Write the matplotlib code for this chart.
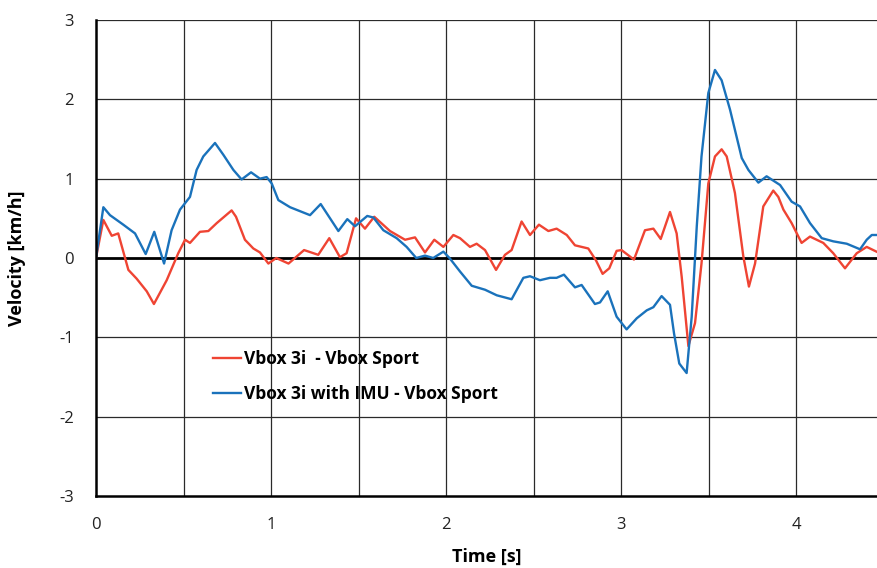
import matplotlib.pyplot as plt

plt.rcParams['font.family'] = ['Open Sans', 'DejaVu Sans']
plt.rcParams['axes.unicode_minus'] = False

# Data
t_red = [0.0, 0.042, 0.09, 0.127, 0.185, 0.232, 0.29, 0.331, 0.404, 0.47, 0.509, 0.537,
         0.594, 0.642, 0.69, 0.775, 0.80, 0.851, 0.899, 0.937, 0.985, 1.03, 1.10,
         1.189, 1.27, 1.333, 1.394, 1.432, 1.486, 1.537, 1.59, 1.68, 1.766, 1.823, 1.88,
         1.933, 1.985, 2.042, 2.08, 2.137, 2.175, 2.223, 2.286, 2.337, 2.375, 2.432, 2.48,
         2.531, 2.585, 2.632, 2.69, 2.737, 2.813, 2.857, 2.895, 2.933, 2.975, 3.003,
         3.074, 3.137, 3.185, 3.227, 3.28, 3.318, 3.347, 3.385, 3.423, 3.46, 3.499, 3.537,
         3.575, 3.604, 3.651, 3.699, 3.731, 3.766, 3.813, 3.87, 3.899, 3.928, 3.975, 4.032,
         4.08, 4.156, 4.213, 4.28, 4.347, 4.404, 4.46]
v_red = [0.0, 0.48, 0.28, 0.31, -0.15, -0.26, -0.42, -0.58, -0.28, 0.06, 0.23, 0.19,
         0.33, 0.34, 0.44, 0.60, 0.52, 0.23, 0.12, 0.07, -0.07, 0.0, -0.07,
         0.10, 0.04, 0.25, 0.01, 0.06, 0.50, 0.37, 0.52, 0.34, 0.23, 0.26, 0.07,
         0.23, 0.14, 0.29, 0.25, 0.14, 0.18, 0.10, -0.15, 0.04, 0.10, 0.46, 0.29,
         0.42, 0.34, 0.37, 0.29, 0.16, 0.12, -0.03, -0.20, -0.13, 0.09, 0.10,
         -0.02, 0.35, 0.37, 0.24, 0.58, 0.31, -0.24, -1.11, -0.82, -0.07, 0.94, 1.28,
         1.37, 1.28, 0.82, 0.02, -0.36, -0.07, 0.65, 0.85, 0.77, 0.61, 0.44, 0.19,
         0.27, 0.19, 0.06, -0.13, 0.06, 0.14, 0.08]

t_blue = [0.0, 0.042, 0.08, 0.156, 0.223, 0.284, 0.333, 0.389, 0.432, 0.48, 0.537,
          0.575, 0.613, 0.68, 0.728, 0.785, 0.832, 0.886, 0.937, 0.975, 1.004, 1.042,
          1.109, 1.223, 1.284, 1.385, 1.436, 1.48, 1.55, 1.585, 1.642, 1.718, 1.775,
          1.83, 1.88, 1.927, 1.985, 2.02, 2.08, 2.147, 2.223, 2.29, 2.375, 2.442, 2.48,
          2.537, 2.594, 2.632, 2.674, 2.737, 2.775, 2.851, 2.88, 2.924, 2.975, 3.032,
          3.09, 3.147, 3.185, 3.232, 3.28, 3.303, 3.333, 3.375, 3.404, 3.433, 3.46,
          3.499, 3.537, 3.575, 3.623, 3.69, 3.728, 3.785, 3.832, 3.909, 3.975, 4.023,
          4.08, 4.147, 4.213, 4.29, 4.366, 4.404, 4.433, 4.46]
v_blue = [0.0, 0.64, 0.54, 0.42, 0.31, 0.05, 0.33, -0.07, 0.35, 0.61, 0.77,
          1.11, 1.28, 1.45, 1.30, 1.11, 0.99, 1.08, 1.00, 1.02, 0.94, 0.73,
          0.64, 0.54, 0.68, 0.34, 0.49, 0.40, 0.53, 0.51, 0.35, 0.25, 0.14,
          0.0, 0.03, 0.0, 0.08, 0.0, -0.17, -0.35, -0.40, -0.47, -0.52, -0.25, -0.23,
          -0.28, -0.25, -0.25, -0.21, -0.37, -0.34, -0.58, -0.56, -0.42, -0.74, -0.90,
          -0.76, -0.66, -0.62, -0.48, -0.59, -0.95, -1.33, -1.45, -0.74, 0.40, 1.28,
          2.08, 2.37, 2.24, 1.87, 1.26, 1.11, 0.95, 1.03, 0.92, 0.71, 0.65,
          0.44, 0.25, 0.21, 0.18, 0.11, 0.23, 0.29, 0.29]

labels = ["Vbox 3i  - Vbox Sport", "Vbox 3i with IMU - Vbox Sport"]
x_ticks = [0, 1, 2, 3, 4]
y_ticks = [-3, -2, -1, 0, 1, 2, 3]

# Plot
fig = plt.figure(figsize=(8.77, 5.68), dpi=100)
ax = fig.add_axes([96 / 877, 1 - 496 / 568, 1 - 96 / 877, (496 - 20) / 568])

ax.plot(t_red, v_red, color='#EF4433', lw=1.7, label=labels[0], solid_joinstyle='round')
ax.plot(t_blue, v_blue, color='#1A72BB', lw=1.7, label=labels[1], solid_joinstyle='round')

ax.set_xlim(0, 781 / 175)
ax.set_ylim(-3, 3)
ax.set_xticks(x_ticks)
ax.set_yticks(y_ticks)

# grid every 0.5 s and every 1 km/h
for gx in [0.5, 1, 1.5, 2, 2.5, 3, 3.5, 4]:
    ax.axvline(gx, color='#2a2a2a', lw=0.9, zorder=0)
for gy in [-2, -1, 1, 2, 3]:
    ax.axhline(gy, color='#2a2a2a', lw=0.9, zorder=0)
ax.axhline(0, color='black', lw=2.0, zorder=1)

ax.spines['right'].set_visible(False)
ax.spines['top'].set_visible(False)
ax.spines['left'].set_linewidth(1.8)
ax.spines['bottom'].set_linewidth(1.8)
ax.tick_params(length=0, labelsize=12, colors='#222222')
ax.tick_params(axis='y', pad=16)
ax.tick_params(axis='x', pad=15)

ax.set_xlabel("Time [s]", fontsize=13, fontweight='bold', labelpad=11)
ax.set_ylabel("Velocity [km/h]", fontsize=13, fontweight='bold', labelpad=24)

ax.legend(loc='upper left', bbox_to_anchor=(0.13, 0.34), frameon=False,
          prop={'weight': 'bold', 'size': 12.5}, handlelength=1.6,
          handletextpad=0.2, labelspacing=1.0)

plt.savefig("out.png")
